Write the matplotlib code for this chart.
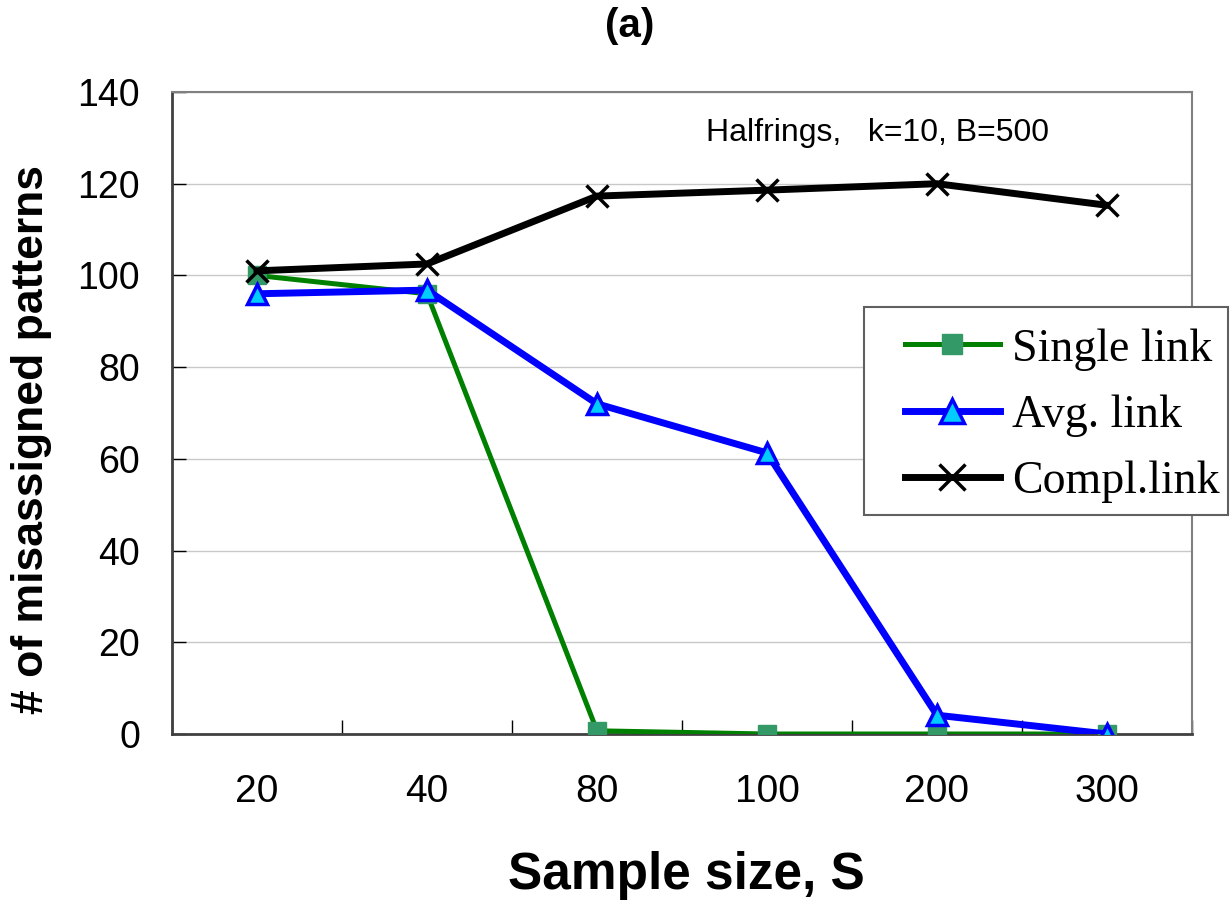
import numpy as np
import matplotlib.pyplot as plt
from matplotlib.patches import Rectangle
from matplotlib.ticker import FixedLocator

plt.rcParams['font.family'] = ['Liberation Sans', 'DejaVu Sans']

# 数据
categories = ['20', '40', '80', '100', '200', '300']
single_link = [100, 96, 0.7, 0, 0, 0]
avg_link = [96, 96.8, 72, 61.3, 4.1, 0]
compl_link = [101, 102.5, 117.3, 118.6, 120, 115.3]
y_ticks = [0, 20, 40, 60, 80, 100, 120, 140]

W, H = 1232, 906
fig = plt.figure(figsize=(W / 100, H / 100), dpi=100)
ax = fig.add_axes([172 / W, 1 - 734 / H, 1020 / W, 642 / H])

x = np.arange(len(categories))
ax.plot(x, single_link, '-s', color='#008000', lw=3.6, ms=12.5,
        mfc='#339966', mec='#339966', label='Single link', zorder=3)
ax.plot(x, avg_link, '-^', color='#0000FF', lw=5, ms=15,
        mfc='#00CCFF', mec='#0000FF', mew=2.5, label='Avg. link', zorder=4)
ax.plot(x, compl_link, '-x', color='black', lw=5, ms=16, mew=2.5,
        label='Compl.link', zorder=5)

ax.set_xlim(-0.5, len(categories) - 0.5)
ax.set_ylim(0, 140)
ax.set_yticks(y_ticks)
ax.yaxis.grid(True, color='#C8C8C8', lw=1)
ax.set_axisbelow(True)

ax.set_xticks(x)
ax.set_xticklabels(categories)
ax.xaxis.set_minor_locator(FixedLocator(np.arange(-0.5, len(categories), 1.0)))
ax.tick_params(axis='x', which='major', length=0, pad=29, labelsize=28)
ax.tick_params(axis='x', which='minor', direction='in', length=10, width=1)
ax.tick_params(axis='y', direction='in', length=10, width=1, pad=23, labelsize=27)

for side in ['left', 'bottom']:
    ax.spines[side].set_color('#404040')
    ax.spines[side].set_linewidth(2)
for side in ['top', 'right']:
    ax.spines[side].set_color('#808080')
    ax.spines[side].set_linewidth(1.5)

fig.text(686 / W, 1 - 876 / H, 'Sample size, S', fontsize=37, fontweight='bold',
         ha='center', va='center')
fig.text(32 / W, 1 - 440 / H, '# of misassigned patterns', fontsize=32,
         fontweight='bold', rotation=90, ha='center', va='center')
fig.text(630 / W, 1 - 26 / H, '(a)', fontsize=29, fontweight='bold',
         ha='center', va='center')

# 注释文字
fig.text(706 / W, 1 - 133 / H, 'Halfrings,   k=10, B=500', fontsize=23,
         ha='left', va='center')

# 图例框
box = Rectangle((864 / W, 1 - 515 / H), 364 / W, 208 / H, transform=fig.transFigure,
                facecolor='white', edgecolor='#606060', lw=1.5, clip_on=False, zorder=9)
ax.add_patch(box)
leg = ax.legend(loc='upper left', bbox_to_anchor=(905 / W, 1 - 328 / H),
                bbox_transform=fig.transFigure, borderaxespad=0, borderpad=0,
                prop={'family': 'Liberation Serif', 'size': 33},
                handlelength=2.07, handletextpad=0.26, frameon=False,
                labelspacing=0.52, markerscale=1.15)
leg.set_zorder(10)

fig.savefig('out.png', dpi=100)
